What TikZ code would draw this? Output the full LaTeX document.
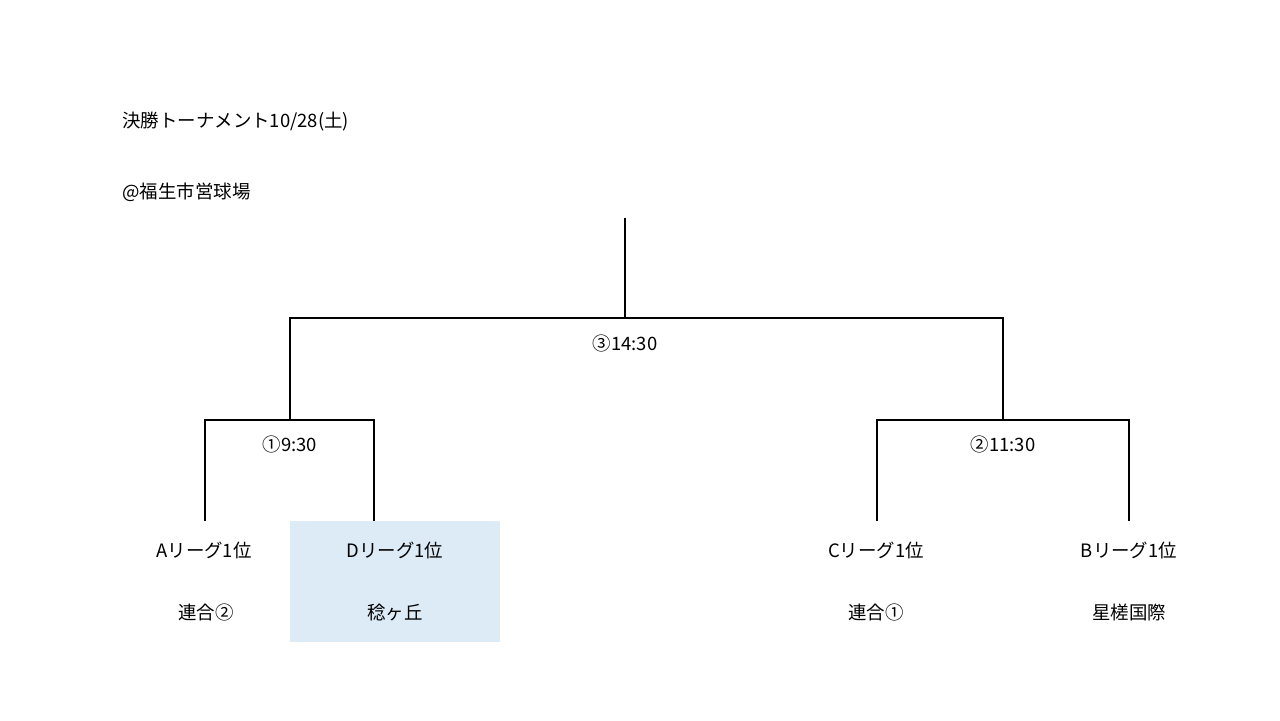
\documentclass[tikz,border=0pt]{standalone}
\usepackage{fontspec}
\setmainfont{Noto Sans CJK JP}
\definecolor{boxblue}{HTML}{DDEBF7}
\begin{document}
\begin{tikzpicture}[x=0.02cm, y=-0.02cm, font=\fontsize{10.5}{12}\selectfont,
  ln/.style={draw=black, line width=1.1pt},
  hd/.style={anchor=west, inner sep=0pt},
  tm/.style={inner sep=1pt},
  sel/.style={fill=boxblue, draw=none, minimum width=4.2cm, minimum height=2.42cm},
]
  \useasboundingbox (0,0) rectangle (1280,720);

  % header
  \node[hd] (title) at (122,122) {決勝トーナメント10/28(土)};
  \node[hd] (place) at (122,192) {@福生市営球場};

  % highlighted team
  \node[sel] (dbox) at (395,581.5) {};

  % bracket points
  \coordinate (top) at (625,218);
  \coordinate (fin) at (625,318);
  \coordinate (sA)  at (290,420);
  \coordinate (sB)  at (1003,420);
  \coordinate (tA)  at (205,521);
  \coordinate (tD)  at (374,521);
  \coordinate (tC)  at (877,521);
  \coordinate (tB)  at (1129,521);

  \draw[ln] (top) -- (fin);
  \draw[ln] (sA) |- (fin) -| (sB);
  \draw[ln] (tA) |- (sA) -| (tD);
  \draw[ln] (tC) |- (sB) -| (tB);

  % match times
  \node[tm] (m3) at (625,343) {③14:30};
  \node[tm] (m1) at (290,444) {①9:30};
  \node[tm] (m2) at (1003,444) {②11:30};

  % teams
  \node[tm] (lgA) at (204,550) {Aリーグ1位};
  \node[tm] (lgD) at (395,550) {Dリーグ1位};
  \node[tm] (lgC) at (876,550) {Cリーグ1位};
  \node[tm] (lgB) at (1129,550) {Bリーグ1位};

  \node[tm] (tmA) at (206,612) {連合②};
  \node[tm] (tmD) at (395,612) {稔ヶ丘};
  \node[tm] (tmC) at (876,612) {連合①};
  \node[tm] (tmB) at (1129,612) {星槎国際};
\end{tikzpicture}
\end{document}
